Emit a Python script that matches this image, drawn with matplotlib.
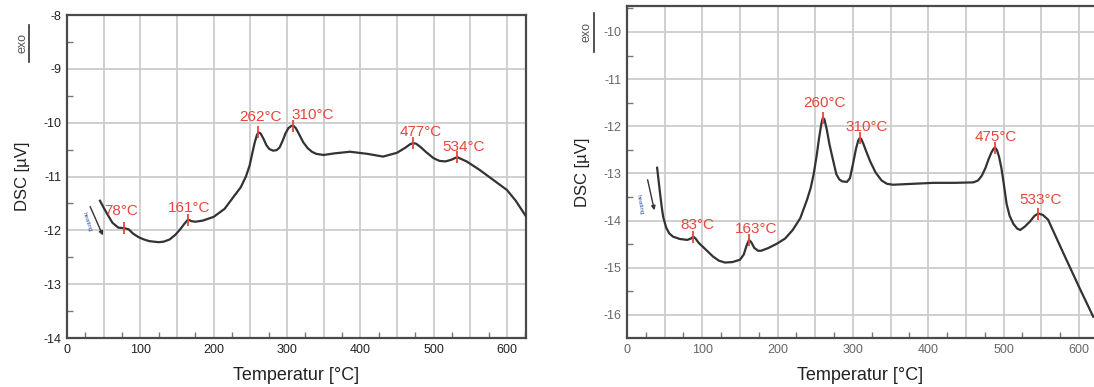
import numpy as np
import matplotlib
matplotlib.use("Agg")
import matplotlib.pyplot as plt
from matplotlib.ticker import MultipleLocator, FuncFormatter

plt.rcParams['font.family'] = ['Liberation Sans', 'DejaVu Sans']

# ---- data ----
left_temp = [45, 50, 55, 62, 70, 78, 84, 90, 98, 105, 112, 118, 125, 132, 140, 148, 155,
             160, 165, 170, 175, 185, 200, 215, 227, 237, 244, 249, 253, 256, 259, 261,
             264, 268, 272, 276, 281, 286, 290, 294, 298, 302, 306, 309, 312, 316, 322,
             328, 334, 340, 350, 365, 386, 410, 431, 450, 462, 468, 472, 476, 482, 490,
             500, 508, 516, 524, 532, 545, 563, 580, 600, 612, 625]
left_dsc = [-11.45, -11.58, -11.7, -11.86, -11.95, -11.96, -11.98, -12.06, -12.13, -12.17,
            -12.2, -12.21, -12.22, -12.21, -12.17, -12.08, -11.97, -11.88, -11.8, -11.83,
            -11.84, -11.82, -11.75, -11.6, -11.38, -11.2, -11.0, -10.8, -10.55, -10.37,
            -10.23, -10.18, -10.2, -10.3, -10.42, -10.49, -10.52, -10.51, -10.46, -10.34,
            -10.2, -10.1, -10.06, -10.06, -10.1, -10.2, -10.36, -10.47, -10.54, -10.58,
            -10.6, -10.57, -10.54, -10.58, -10.63, -10.56, -10.46, -10.4, -10.38, -10.39,
            -10.45, -10.55, -10.66, -10.71, -10.72, -10.69, -10.64, -10.72, -10.88, -11.05,
            -11.25, -11.45, -11.72]
left_peak_temp = [78, 165, 261, 308, 472, 532]
left_peak_dsc = [-11.96, -11.8, -10.18, -10.06, -10.38, -10.64]
left_peak_labels = ['78°C', '161°C', '262°C', '310°C', '477°C', '534°C']

right_temp = [40, 43, 46, 48, 52, 56, 61, 70, 80, 85, 88, 91, 95, 101, 114, 122, 130,
              140, 150, 155, 159, 162, 165, 169, 174, 178, 188, 199, 210, 220, 230, 239,
              244, 248, 252, 255, 258, 260, 262, 265, 269, 274, 278, 282, 286, 292, 296,
              300, 304, 307, 309, 311, 314, 318, 323, 330, 338, 345, 353, 380, 407, 435,
              460, 466, 471, 476, 480, 484, 487, 489, 491, 494, 497, 500, 504, 508, 513,
              518, 522, 528, 535, 541, 546, 552, 559, 579, 602, 619]
right_dsc = [-12.88, -13.3, -13.7, -13.92, -14.15, -14.27, -14.34, -14.39, -14.41, -14.38,
             -14.34, -14.38, -14.47, -14.56, -14.76, -14.85, -14.89, -14.88, -14.83, -14.72,
             -14.52, -14.41, -14.46, -14.58, -14.64, -14.64, -14.58, -14.49, -14.38, -14.2,
             -13.95, -13.56, -13.3, -13.0, -12.6, -12.25, -11.95, -11.82, -11.85, -12.05,
             -12.4, -12.75, -13.02, -13.13, -13.17, -13.18, -13.1, -12.8, -12.48, -12.3,
             -12.25, -12.27, -12.38, -12.55, -12.75, -12.98, -13.15, -13.22, -13.24, -13.22,
             -13.2, -13.2, -13.19, -13.15, -13.05, -12.88, -12.7, -12.55, -12.47, -12.46,
             -12.5, -12.65, -12.88, -13.2, -13.65, -13.9, -14.07, -14.17, -14.2, -14.13,
             -14.02, -13.9, -13.85, -13.88, -13.98, -14.68, -15.47, -16.04]
right_peak_temp = [88, 162, 260, 309, 489, 546]
right_peak_dsc = [-14.34, -14.41, -11.82, -12.25, -12.46, -13.85]
right_peak_labels = ['83°C', '163°C', '260°C', '310°C', '475°C', '533°C']

W, H = 1094, 387
red = '#e8453c'
line_col = '#333333'
grid_col = '#cdcdcd'
spine_col = '#4a4a4a'

fig = plt.figure(figsize=(W / 100, H / 100), dpi=100)


def px(x, y):
    return x / W, 1 - y / H


def style_axes(ax, xmax, ymin, ymax, tick_col):
    ax.set_xlim(0, xmax)
    ax.set_ylim(ymin, ymax)
    ax.xaxis.set_major_locator(MultipleLocator(50))
    ax.xaxis.set_minor_locator(MultipleLocator(25))
    ax.xaxis.set_major_formatter(FuncFormatter(lambda v, p: f"{v:.0f}" if round(v) % 100 == 0 else ""))
    ax.yaxis.set_major_locator(MultipleLocator(1))
    ax.yaxis.set_minor_locator(MultipleLocator(0.5))
    ax.yaxis.set_major_formatter(FuncFormatter(lambda v, p: f"{v:.0f}".replace('−', '-')))
    ax.tick_params(which='major', length=0, labelsize=9, colors=tick_col, pad=4)
    ax.tick_params(which='minor', direction='in', length=4, width=1, color='#777777')
    ax.grid(True, which='major', color=grid_col, lw=1.3)
    ax.set_axisbelow(True)
    for s in ax.spines.values():
        s.set_color(spine_col)
        s.set_linewidth(1.6)
    ax.set_xlabel("Temperatur [°C]", fontsize=13, color='#222222', labelpad=8)
    ax.set_ylabel("DSC [µV]", fontsize=12, color='#222222', labelpad=10)


def draw_peaks(ax, tx, ty, labels, offsets):
    ax.plot(tx, ty, ls='none', marker='|', ms=8, mew=1.3, color=red, zorder=4)
    for x, y, lab, off in zip(tx, ty, labels, offsets):
        ax.annotate(lab, (x, y), xytext=off, textcoords='offset pixels',
                    ha='center', va='center', fontsize=11, color=red)


# left panel
ax1 = fig.add_axes([67 / W, 49 / H, 459 / W, 323 / H])
style_axes(ax1, 626, -14, -8, '#222222')
ax1.plot(left_temp, left_dsc, color=line_col, lw=1.6, zorder=3)
draw_peaks(ax1, left_peak_temp, left_peak_dsc, left_peak_labels,
           [(-3, 17), (1, 12), (2, 15), (20, 11), (8, 11), (7, 10)])

# right panel
ax2 = fig.add_axes([627 / W, 49 / H, (W - 627) / W, 332 / H])
style_axes(ax2, 620, -16.49, -9.45, '#666666')
ax2.spines['right'].set_visible(False)
ax2.plot(right_temp, right_dsc, color=line_col, lw=1.6, zorder=3)
draw_peaks(ax2, right_peak_temp, right_peak_dsc, right_peak_labels,
           [(4, 12), (7, 11), (2, 15), (7, 11), (0, 11), (2, 13)])

# "exo" markers
for tx, ty, lx, ly0, ly1 in [(23, 43, 29, 25, 62), (587, 32, 594, 13, 52)]:
    fig.text(*px(tx, ty), "exo", rotation=90, ha='center', va='center',
             fontsize=9, color='#555555')
    fig.add_artist(plt.Line2D([lx / W, lx / W], [1 - ly0 / H, 1 - ly1 / H],
                              color='#333333', lw=1.2))

# heating arrows
for tx, ty, rot, a0, a1 in [(87, 222, -72, (89, 204), (104, 238)),
                            (640, 205, -80, (647, 177), (655, 213))]:
    fig.text(*px(tx, ty), "heating", rotation=rot, ha='center', va='center',
             fontsize=4.5, color='#3355aa')
    fig.add_artist(matplotlib.patches.FancyArrowPatch(px(*a0), px(*a1),
                   transform=fig.transFigure, arrowstyle='-|>', mutation_scale=6,
                   color='#333333', lw=1.0))

fig.savefig("out.png", dpi=100)
